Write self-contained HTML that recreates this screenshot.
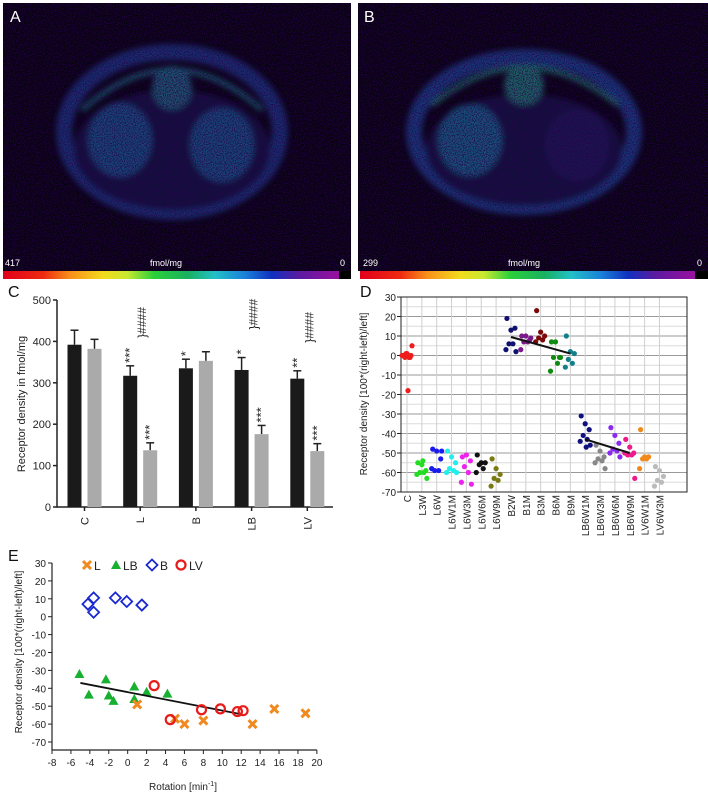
<!DOCTYPE html>
<html><head><meta charset="utf-8"><style>
html,body{margin:0;padding:0;background:#fff;}
svg{display:block;font-family:"Liberation Sans",sans-serif;}
</style></head><body>
<svg id="fig" width="708" height="807" viewBox="0 0 708 807" xmlns="http://www.w3.org/2000/svg">
<defs>
<filter id="noise" x="0" y="0" width="100%" height="100%">
<feTurbulence type="fractalNoise" baseFrequency="0.9" numOctaves="1" seed="3" result="n"/>
<feColorMatrix in="n" type="matrix" values="0 0 0 0 0.02  0 0 0 0 0.0  0 0 0 0 0.08  0 0 0 4 -1.7" result="c"/>
<feComposite in="c" in2="SourceGraphic" operator="in"/>
</filter>
<filter id="blur"><feGaussianBlur stdDeviation="3"/></filter>
<linearGradient id="cbar" x1="0" x2="1" y1="0" y2="0">
<stop offset="0" stop-color="#e0001a"/><stop offset="0.12" stop-color="#ee2a10"/><stop offset="0.2" stop-color="#f8901a"/><stop offset="0.3" stop-color="#f2dc1c"/><stop offset="0.37" stop-color="#c8e830"/><stop offset="0.45" stop-color="#2ad03a"/><stop offset="0.55" stop-color="#19b060"/><stop offset="0.63" stop-color="#22c0c8"/><stop offset="0.72" stop-color="#1a80d8"/><stop offset="0.8" stop-color="#1030c0"/><stop offset="0.88" stop-color="#5a1aa0"/><stop offset="1" stop-color="#9a10a0"/>
</linearGradient>
</defs>

<!-- Panel A -->
<g>
<rect x="3" y="3" width="348" height="268" fill="#07030d"/>
<g filter="url(#blur)" opacity="0.75">
<ellipse cx="172" cy="132" rx="108" ry="80" fill="none" stroke="#1a3e8c" stroke-width="16"/>
<ellipse cx="172" cy="150" rx="98" ry="60" fill="#161248"/>
<ellipse cx="120" cy="140" rx="32" ry="37" fill="#1a5a96"/>
<ellipse cx="222" cy="145" rx="32" ry="37" fill="#1a5a96"/>
<ellipse cx="172" cy="88" rx="20" ry="22" fill="#206a86"/>
<path d="M82 110 Q172 30 262 110" fill="none" stroke="#1e7a90" stroke-width="5"/>
</g>
<rect x="3" y="3" width="348" height="268" fill="#000" filter="url(#noise)" opacity="0.8"/>
<text x="10" y="22" font-size="16" fill="#fff">A</text>
<text x="5" y="266" font-size="9" fill="#fff">417</text>
<text x="150" y="266" font-size="9" fill="#fff">fmol/mg</text>
<text x="340" y="266" font-size="9" fill="#fff">0</text>
<rect x="3" y="271" width="336" height="8" fill="url(#cbar)"/>
<rect x="339" y="271" width="12" height="8" fill="#000"/>
</g>

<!-- Panel B -->
<g>
<rect x="358" y="3" width="350" height="268" fill="#07030d"/>
<g filter="url(#blur)" opacity="0.75">
<ellipse cx="524" cy="132" rx="110" ry="75" fill="none" stroke="#1a4a98" stroke-width="16"/>
<ellipse cx="524" cy="150" rx="98" ry="56" fill="#181448"/>
<ellipse cx="470" cy="140" rx="32" ry="36" fill="#1c6a9a"/>
<ellipse cx="577" cy="145" rx="32" ry="36" fill="#221e62"/>
<ellipse cx="524" cy="85" rx="20" ry="20" fill="#24807a"/>
<path d="M432 105 Q524 30 618 105" fill="none" stroke="#228a7a" stroke-width="5"/>
</g>
<rect x="358" y="3" width="350" height="268" fill="#000" filter="url(#noise)" opacity="0.8"/>
<text x="364" y="22" font-size="16" fill="#fff">B</text>
<text x="363" y="266" font-size="9" fill="#fff">299</text>
<text x="508" y="266" font-size="9" fill="#fff">fmol/mg</text>
<text x="697" y="266" font-size="9" fill="#fff">0</text>
<rect x="360" y="271" width="335" height="8" fill="url(#cbar)"/>
<rect x="695" y="271" width="13" height="8" fill="#000"/>
</g>

<!-- Panel C -->
<g id="chartC">
<text x="8" y="297" font-size="16" fill="#111">C</text>
<text transform="translate(25,404) rotate(-90)" text-anchor="middle" font-size="11" fill="#222">Receptor density in fmol/mg</text>
</g>

<!-- Panel D -->
<g id="chartD">
<text x="360" y="297" font-size="16" fill="#111">D</text>
<text transform="translate(367,394) rotate(-90)" text-anchor="middle" font-size="10" fill="#222">Receptor density [100*(right-left)/left]</text>
</g>

<!-- Panel E -->
<g id="chartE">
<text x="8" y="561" font-size="16" fill="#111">E</text>
<text transform="translate(22,652) rotate(-90)" text-anchor="middle" font-size="10" fill="#222">Receptor density [100*(right-left)/left]</text>
<text x="183" y="790" text-anchor="middle" font-size="10" fill="#222">Rotation [min<tspan font-size="7" dy="-4">-1</tspan><tspan dy="4">]</tspan></text>
</g>
</svg>
<script>
var NS="http://www.w3.org/2000/svg";
function mk(parent,tag,attrs,txt){var e=document.createElementNS(NS,tag);for(var k in attrs)e.setAttribute(k,attrs[k]);if(txt!==undefined)e.textContent=txt;parent.appendChild(e);return e;}

/* ---------- Chart C data ---------- */
var cGroups=["C","L","B","LB","LV"];
var cBlack=[392,317,335,331,310];
var cGray=[382,137,353,176,135];
var cBlackErr=[35,24,22,30,19];
var cGrayErr=[23,18,22,21,18];
var cBlackSig=["","***","*","*","**"];
var cGraySig=["","***","","***","***"];
var cHash=["","####","","####","####"];
var cTicks=[0,100,200,300,400,500];

(function(){
var g=document.getElementById("chartC");
var x0=57,x1=333,yb=507,yt=300;
function y(v){return yb-v*(yb-yt)/500;}
function xc(i){return 74.5+i*55.7;}
var ax=mk(g,"path",{d:"M"+x0+" "+yt+" V"+yb+" H"+x1,fill:"none",stroke:"#222","stroke-width":1.5});


cTicks.forEach(function(t){
 mk(g,"line",{x1:x0-4,x2:x0,y1:y(t),y2:y(t),stroke:"#222","stroke-width":1.5});
 var tl=mk(g,"text",{x:x0-6,y:y(t)+4,"text-anchor":"end","font-size":11,fill:"#222"},String(t));
 
 
});
cGroups.forEach(function(name,i){
 var bx=xc(i)-7, gx=xc(i)+13;
 mk(g,"line",{x1:xc(i)+10,x2:xc(i)+10,y1:yb,y2:yb+4,stroke:"#222","stroke-width":1.5});
 var lab=mk(g,"text",{transform:"translate("+(xc(i)+14)+","+(yb+10)+") rotate(-90)","text-anchor":"end","font-size":11,fill:"#222"},name);
 
 
 [[cBlack[i],cBlackErr[i],bx,"#1a1a1a",cBlackSig[i],"black"],[cGray[i],cGrayErr[i],gx,"#aaaaaa",cGraySig[i],"gray"]].forEach(function(s){
  var v=s[0],e=s[1],x=s[2];
  var top=y(v+e);
  mk(g,"line",{x1:x+7,x2:x+7,y1:y(v),y2:top,stroke:"#222","stroke-width":1.5});
  mk(g,"line",{x1:x+3,x2:x+11,y1:top,y2:top,stroke:"#222","stroke-width":1.5});
  var r=mk(g,"rect",{x:x,y:y(v),width:14,height:yb-y(v),fill:s[3]});
  
  
  if(s[4]){
   var st=mk(g,"text",{transform:"translate("+(x+11)+","+(top-3)+") rotate(-90)","font-size":13,fill:"#222"},s[4]);
   
   
  }
 });
 if(cHash[i]){
  var hy=Math.min(y(cBlack[i]+cBlackErr[i]),y(cGray[i]+cGrayErr[i]))-28;
  var h=mk(g,"text",{transform:"translate("+(xc(i)+16)+","+hy+") rotate(-90)","font-size":12,fill:"#222"},"}####");
  
  
 }
});
})();

/* ---------- Chart D data ---------- */
var dCats=["C","L3W","L6W","L6W1M","L6W3M","L6W6M","L6W9M","B2W","B1M","B3M","B6M","B9M","LB6W1M","LB6W3M","LB6W6M","LB6W9M","LV6W1M","LV6W3M"];
var dVals=[
 [0,1,0,-1,-1,0,5,-18,1,-1],
 [-55,-56,-59,-60,-60,-61,-63,-54],
 [-48,-49,-53,-59,-59,-58,-49],
 [-49,-52,-55,-58,-59,-60,-60],
 [-52,-51,-54,-57,-60,-65,-66],
 [-51,-55,-55,-56,-58,-60],
 [-53,-58,-61,-63,-64,-67],
 [19,13,14,6,6,3,2],
 [10,10,8,7,7,3,9],
 [23,12,10,9,8,7],
 [7,7,-1,-1,-4,-8,-1],
 [10,2,1,-2,-4,-6],
 [-31,-35,-38,-41,-43,-44,-46,-47],
 [-46,-49,-52,-53,-54,-55,-58],
 [-37,-41,-45,-48,-49,-50,-52],
 [-43,-47,-50,-51,-51,-50,-63],
 [-38,-52,-52,-53,-53,-58],
 [-57,-59,-62,-64,-65,-67]];
var dTrendB=[9.5,1];
var dTrendLB=[-43,-50];
var dTicks=[30,20,10,0,-10,-20,-30,-40,-50,-60,-70];
var dColors=["#ee1c1c","#22dd22","#1a1aee","#22eeee","#ee22ee","#111111","#7a7a10","#101070","#7a1a8a","#7a0a0a","#108a10","#10808a","#101080","#888888","#8a2aee","#ee1a8a","#f08a1a","#bbbbbb"];

(function(){
var g=document.getElementById("chartD");
var L=401,R=687,T=297,B=492;
function y(v){return T+(30-v)*(B-T)/100;}
function x(i){return 407+i*14.85;}
for(var v=25;v>-70;v-=10){mk(g,"line",{x1:L,x2:R,y1:y(v),y2:y(v),stroke:"#dcdcdc","stroke-width":1});}
dTicks.forEach(function(t){
 mk(g,"line",{x1:L,x2:R,y1:y(t),y2:y(t),stroke:"#9a9a9a","stroke-width":1});
 mk(g,"line",{x1:L-4,x2:L,y1:y(t),y2:y(t),stroke:"#222"});
 var tl=mk(g,"text",{x:L-5,y:y(t)+4,"text-anchor":"end","font-size":10,fill:"#222"},String(t));
 
 
});
dCats.forEach(function(c,i){
 mk(g,"line",{x1:x(i),x2:x(i),y1:T,y2:B,stroke:"#cfcfcf","stroke-width":1});
 var lab=mk(g,"text",{transform:"translate("+(x(i)+4)+","+(B+3)+") rotate(-90)","text-anchor":"end","font-size":10,fill:"#222"},c);
 
 
});
var fr=mk(g,"rect",{x:L,y:T,width:R-L,height:B-T,fill:"none",stroke:"#222","stroke-width":1});


var jit=[-4,0,4,-2,2,-5,5,1,-1,3];
dVals.forEach(function(arr,i){
 arr.forEach(function(v,k){
  var p=mk(g,"circle",{cx:x(i)+jit[k%jit.length],cy:y(v),r:2.6,fill:dColors[i]});
  
  
 });
});
var l1=mk(g,"line",{x1:x(7),y1:y(dTrendB[0]),x2:x(11),y2:y(dTrendB[1]),stroke:"#111","stroke-width":2});


var l2=mk(g,"line",{x1:x(12),y1:y(dTrendLB[0]),x2:x(15),y2:y(dTrendLB[1]),stroke:"#111","stroke-width":2});


})();

/* ---------- Chart E data ---------- */
var eLx=[1,5,6,8,13.2,15.5,18.8];
var eLy=[-49,-57,-60,-58,-60,-51.5,-54];
var eLBx=[-5.1,-4.1,-2.3,-2,-1.5,0.7,0.7,2,4.2];
var eLBy=[-32,-43.5,-35,-44,-47,-39,-46,-42,-43];
var eBx=[-4.2,-3.6,-3.6,-1.3,-0.1,1.5];
var eBy=[7,10.5,2.5,10.5,8.5,6.5];
var eLVx=[2.8,4.5,7.8,9.8,11.6,12.2];
var eLVy=[-38.5,-57.5,-52,-51.5,-53,-52.5];
var eTrendX=[-5,12];
var eTrendY=[-37,-54.5];
var eXTicks=[-8,-6,-4,-2,0,2,4,6,8,10,12,14,16,18,20];
var eYTicks=[30,20,10,0,-10,-20,-30,-40,-50,-60,-70];

(function(){
var g=document.getElementById("chartE");
function x(v){return 52+(v+8)*9.46;}
function y(v){return 563+(30-v)*1.79;}
var L=52,B=750,T=y(30),R=x(20);
var ax=mk(g,"path",{d:"M"+L+" "+T+" V"+B+" H"+R,fill:"none",stroke:"#222","stroke-width":1.2});


eYTicks.forEach(function(t){
 mk(g,"line",{x1:L-4,x2:L,y1:y(t),y2:y(t),stroke:"#222"});
 var tl=mk(g,"text",{x:L-6,y:y(t)+4,"text-anchor":"end","font-size":10,fill:"#222"},String(t));
 
 
});
eXTicks.forEach(function(t){
 mk(g,"line",{x1:x(t),x2:x(t),y1:B,y2:B+4,stroke:"#222"});
 var tl=mk(g,"text",{x:x(t),y:B+16,"text-anchor":"middle","font-size":10,fill:"#222"},String(t));
 
 
});
function cross(cx,cy,name){var p=mk(g,"path",{d:"M"+(cx-4)+" "+(cy-4)+"L"+(cx+4)+" "+(cy+4)+"M"+(cx+4)+" "+(cy-4)+"L"+(cx-4)+" "+(cy+4),stroke:"#f08a20","stroke-width":3});}
function tri(cx,cy,name){var p=mk(g,"path",{d:"M"+cx+" "+(cy-5)+"L"+(cx+5)+" "+(cy+4)+"L"+(cx-5)+" "+(cy+4)+"Z",fill:"#18b030"});}
function dia(cx,cy,name){var p=mk(g,"path",{d:"M"+cx+" "+(cy-5.5)+"L"+(cx+5.5)+" "+cy+"L"+cx+" "+(cy+5.5)+"L"+(cx-5.5)+" "+cy+"Z",fill:"none",stroke:"#1a2ad0","stroke-width":1.8});}
function circ(cx,cy,name){var p=mk(g,"circle",{cx:cx,cy:cy,r:4.5,fill:"none",stroke:"#e81a1a","stroke-width":2.2});}
eLBx.forEach(function(v,i){tri(x(v),y(eLBy[i]),'point-lb');});
eBx.forEach(function(v,i){dia(x(v),y(eBy[i]),'point-b');});
var tl=mk(g,"line",{x1:x(eTrendX[0]),y1:y(eTrendY[0]),x2:x(eTrendX[1]),y2:y(eTrendY[1]),stroke:"#111","stroke-width":1.8});


eLx.forEach(function(v,i){cross(x(v),y(eLy[i]),'point-l');});
eLVx.forEach(function(v,i){circ(x(v),y(eLVy[i]),'point-lv');});
var ly=565;
cross(87,ly,'legend-marker-l');
var t1=mk(g,"text",{x:94,y:ly+5,"font-size":12,fill:"#222"},"L");


tri(116,ly,'legend-marker-lb');
var t2=mk(g,"text",{x:123,y:ly+5,"font-size":12,fill:"#222"},"LB");


dia(152,ly,'legend-marker-b');
var t3=mk(g,"text",{x:160,y:ly+5,"font-size":12,fill:"#222"},"B");


circ(181,ly,'legend-marker-lv');
var t4=mk(g,"text",{x:189,y:ly+5,"font-size":12,fill:"#222"},"LV");


})();
</script>
</body></html>
